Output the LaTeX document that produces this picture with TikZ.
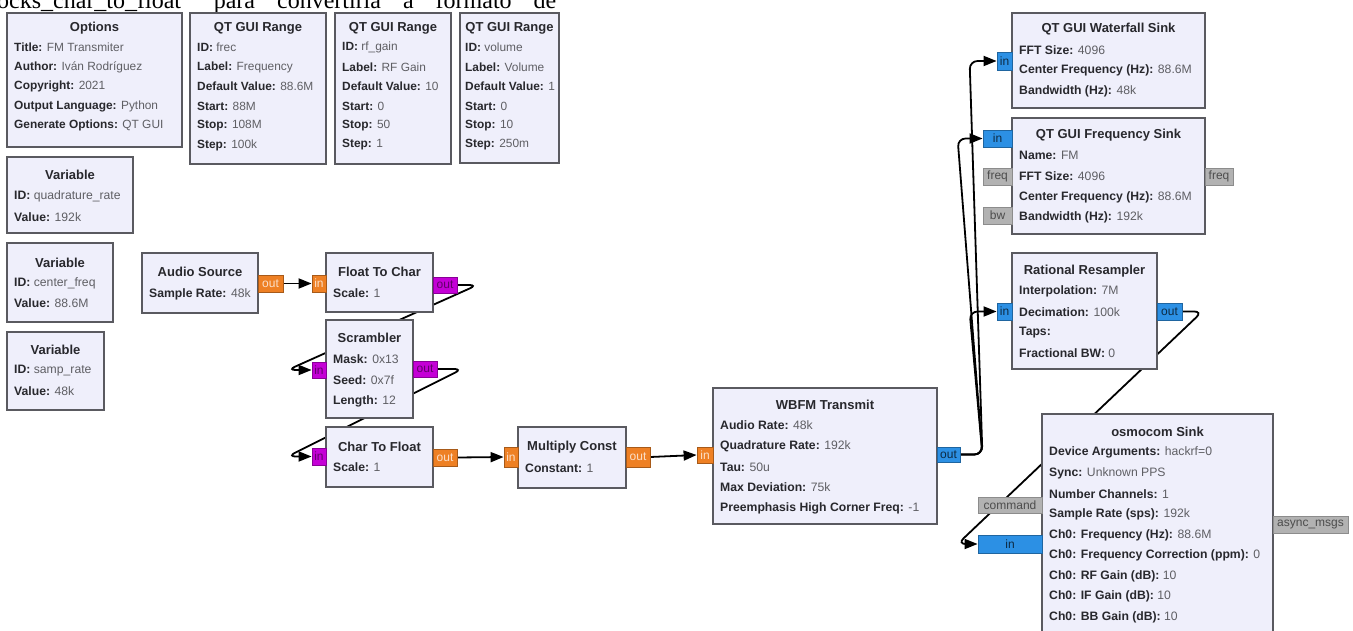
\documentclass[tikz,border=0pt]{standalone}
\usepackage{fontspec}
\setmainfont{Liberation Sans}
\newfontfamily\capfont{Liberation Serif}
\usetikzlibrary{fit,arrows.meta}
\pgfdeclarelayer{bg}
\pgfsetlayers{bg,main}
\definecolor{blkfill}{RGB}{239,239,251}
\definecolor{blkdraw}{RGB}{90,90,96}
\definecolor{portorange}{RGB}{238,128,36}
\definecolor{portmag}{RGB}{196,0,214}
\definecolor{portblue}{RGB}{44,144,228}
\definecolor{portgray}{RGB}{178,178,178}
\definecolor{keycol}{RGB}{40,40,45}
\definecolor{valcol}{RGB}{95,95,100}
\def\grcpad{7}
\def\grcfs{12.2}
\tikzset{
 blk/.style={draw=blkdraw, fill=blkfill, line width=1.7pt, inner sep=0pt},
 ttl/.style={font=\fontsize{13}{15}\selectfont\bfseries, text=keycol, inner sep=0pt},
 kv/.style={font=\fontsize{\grcfs}{14}\selectfont, inner sep=0pt, anchor=west},
 port/.style={inner sep=0pt, line width=0.8pt, font=\fontsize{12}{14}\selectfont},
 porto/.style={port, fill=portorange, draw=portorange!70!black, text=white!75!portorange},
 portm/.style={port, fill=portmag, draw=portmag!70!black, text=portmag!50!black},
 portb/.style={port, fill=portblue, draw=portblue!70!black, text=portblue!30!black},
 portg/.style={port, fill=portgray, draw=black!45, text=black!70},
 wire/.style={line width=1.8pt, black, -{Triangle[length=13pt,width=10pt]}, rounded corners=8pt},
}
\newcommand\grcbox[9]{%
  \node[blk, fit={(#2,#3) (#4,#5)}] (#1) {};
  \node[ttl] (#1-t) at ({(#2+#4)/2},{#3+#6}) {#8};
  \foreach \k/\v [count=\i] in {#9} {
    \node[kv] (#1-\i) at ({#2+\grcpad},{#3+#6+#7*\i}) {\textcolor{keycol}{\bfseries\k:} \textcolor{valcol}{\v}};
  }%
}
\newcommand\grcport[7]{%
  \pgfmathsetmacro\grcpw{#5-#3}%
  \pgfmathsetmacro\grcph{#6-#4}%
  \node[#2, minimum width=\grcpw pt, minimum height=\grcph pt] (#1) at ({(#3+#5)/2},{(#4+#6)/2}) {#7};%
}
\begin{document}
\begin{tikzpicture}[x=1pt,y=-1pt]
\useasboundingbox (0,0) rectangle (1353,631);
\clip (0,0) rectangle (1353,631);

\node[anchor=base west, inner sep=0pt, font=\capfont\fontsize{24}{26}\selectfont] (cap) at (-3,9)
 {ocks\_char\_to\_float”\hspace{22pt}para\hspace{22pt}convertirla\hspace{22pt}a\hspace{22pt}formato\hspace{22pt}de};

\def\grcfs{11.9}
\grcbox{opt}{7}{13}{182}{147}{15}{19.5}{Options}{Title/FM Transmiter, Author/Iván Rodríguez, Copyright/2021, Output Language/Python, Generate Options/QT GUI}
\grcbox{rga}{190}{13}{326}{164}{15}{19.5}{QT GUI Range}{ID/frec, Label/Frequency, Default Value/88.6M, Start/88M, Stop/108M, Step/100k}
\grcbox{rgb}{335}{13}{451}{164}{15}{19.5}{QT GUI Range}{ID/rf\_gain, Label/RF Gain, Default Value/10, Start/0, Stop/50, Step/1}
\def\grcpad{5}
\grcbox{rgc}{460}{13}{559}{163}{15}{19.5}{QT GUI Range}{ID/volume, Label/Volume, Default Value/1, Start/0, Stop/10, Step/250m}
\def\grcpad{7}
\def\grcfs{12.2}
\grcbox{va}{7}{157}{133}{233}{18}{21}{Variable}{ID/quadrature\_rate, Value/192k}
\grcbox{vb}{7}{243}{113}{322}{20}{20}{Variable}{ID/center\_freq, Value/88.6M}
\grcbox{vc}{7}{332}{104}{410}{18}{20.5}{Variable}{ID/samp\_rate, Value/48k}
\grcbox{as}{142}{253}{258}{313}{19}{22}{Audio Source}{Sample Rate/48k}
\grcbox{ftc}{326}{253}{433}{312}{19}{21}{Float To Char}{Scale/1}
\grcbox{scr}{326}{320}{413}{418}{18}{21}{Scrambler}{Mask/0x13, Seed/0x7f, Length/12}
\grcbox{ctf}{326}{427}{433}{487}{20}{20}{Char To Float}{Scale/1}
\grcbox{mc}{518}{427}{626}{488}{20}{21}{Multiply Const}{Constant/1}
\grcbox{wb}{713}{388}{937}{524}{17}{20.6}{WBFM Transmit}{Audio Rate/48k, Quadrature Rate/192k, Tau/50u, Max Deviation/75k, Preemphasis High Corner Freq/-1}
\grcbox{wf}{1012}{13}{1205}{108}{16}{20.7}{QT GUI Waterfall Sink}{FFT Size/4096, Center Frequency (Hz)/88.6M, Bandwidth (Hz)/48k}
\grcbox{fs}{1012}{118}{1205}{234}{17}{20.7}{QT GUI Frequency Sink}{Name/FM, FFT Size/4096, Center Frequency (Hz)/88.6M, Bandwidth (Hz)/192k}
\grcbox{rr}{1012}{253}{1157}{369}{18}{20.5}{Rational Resampler}{Interpolation/7M, Decimation/100k, Taps/{}, Fractional BW/0}
\grcbox{os}{1042}{414}{1273}{636}{18}{20.6}{osmocom Sink}{Device Arguments/hackrf=0, Sync/Unknown PPS, Number Channels/1, Sample Rate (sps)/192k, Ch0: Frequency (Hz)/88.6M, Ch0: Frequency Correction (ppm)/0, Ch0: RF Gain (dB)/10, Ch0: IF Gain (dB)/10, Ch0: BB Gain (dB)/10}

\grcport{asout}{porto}{258}{275}{283}{292}{out}
\grcport{ftcin}{porto}{312}{275}{326}{292}{in}
\grcport{ftcout}{portm}{433}{277}{457}{293}{out}
\grcport{scrin}{portm}{312}{362}{326}{378}{in}
\grcport{scrout}{portm}{413}{361}{437}{377}{out}
\grcport{ctfin}{portm}{312}{448}{326}{465}{in}
\grcport{ctfout}{porto}{433}{449}{457}{466}{out}
\grcport{mcin}{porto}{504}{447}{518}{467}{in}
\grcport{mcout}{porto}{626}{447}{650}{467}{out}
\grcport{wbin}{porto}{697}{447}{713}{463}{in}
\grcport{wbout}{portb}{937}{447}{960}{462}{out}
\grcport{wfin}{portb}{997}{52}{1012}{70}{in}
\grcport{fsin}{portb}{983}{130}{1012}{147}{in}
\grcport{fsfreq}{portg}{983}{168}{1012}{185}{freq}
\grcport{fsbw}{portg}{983}{207}{1012}{224}{bw}
\grcport{fsfreqo}{portg}{1205}{168}{1233}{185}{freq}
\grcport{rrin}{portb}{997}{303}{1012}{320}{in}
\grcport{rrout}{portb}{1157}{303}{1182}{320}{out}
\grcport{oscmd}{portg}{978}{497}{1042}{513}{command}
\grcport{osin}{portb}{978}{535}{1042}{553}{in}
\grcport{osasync}{portg}{1273}{516}{1348}{533}{async\_msgs}

\begin{pgfonlayer}{bg}
\fill[white] (0,0) rectangle (1353,631);
\draw[wire] (asout.east) -- (ftcin.west);
\draw[wire] (ftcout.east) -- ++(20,0) -- ([xshift=-24pt]scrin.west) -- (scrin.west);
\draw[wire] (scrout.east) -- ++(25,0) -- ([xshift=-24pt]ctfin.west) -- (ctfin.west);
\draw[wire] (ctfout.east) -- (mcin.west);
\draw[wire] (mcout.east) -- (wbin.west);
\draw[wire] (wbout.east) -- ++(22,0) -- ([xshift=-27pt]wfin.west) -- (wfin.west);
\draw[wire] (wbout.east) -- ++(22,0) -- ([xshift=-25pt]fsin.west) -- (fsin.west);
\draw[wire] (wbout.east) -- ++(22,0) -- ([xshift=-27pt]rrin.west) -- (rrin.west);
\draw[wire] (rrout.east) -- ++(20,0) -- ([xshift=-20pt]osin.west) -- (osin.west);
\end{pgfonlayer}
\end{tikzpicture}
\end{document}
